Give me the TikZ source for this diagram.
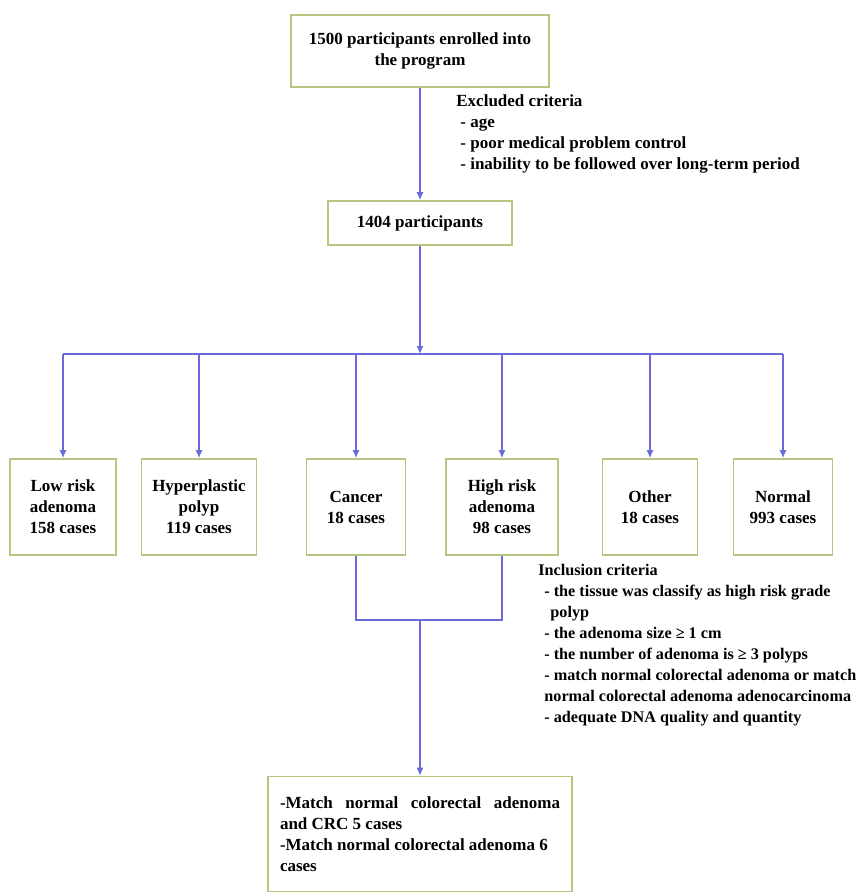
\documentclass[tikz,border=0pt]{standalone}
\usepackage{fontspec}
\setmainfont{Liberation Serif}
\usetikzlibrary{arrows.meta}

\definecolor{boxgreen}{RGB}{180,198,128}
\definecolor{flowblue}{RGB}{106,106,218}

\tikzset{
    flowfont/.style={font=\bfseries\fontsize{8.5}{10.5}\selectfont},
    box/.style={draw=boxgreen, line width=0.8pt, align=center, inner sep=2pt, flowfont},
    note/.style={anchor=north west, align=left, inner sep=0pt, flowfont},
    flow/.style={draw=flowblue, line width=0.7pt},
    flowarrow/.style={flow, -{Latex[length=4pt, width=3.5pt]}},
}

\begin{document}
\begin{tikzpicture}[x=0.5pt, y=-0.5pt]
    \useasboundingbox (0, 0) rectangle (867, 893);

    % top of the chart
    \node[box, minimum width=129pt, minimum height=36pt] (enrolled) at (420, 51)
        {1500 participants enrolled into\\the program};
    \node[box, minimum width=92pt, minimum height=22pt] (part) at (420, 223)
        {1404 participants};
    \draw[flowarrow] (enrolled.south) -- (part.north);

    \node[note] (excluded) at (456, 94)
        {Excluded criteria\\
         \hspace{2pt}- age\\
         \hspace{2pt}- poor medical problem control\\
         \hspace{2pt}- inability to be followed over long-term period};

    % groups
    \node[box, minimum width=53pt, minimum height=48pt] (low) at (63, 507)
        {Low risk\\adenoma\\158 cases};
    \node[box, minimum width=57.5pt, minimum height=48pt] (hyper) at (199, 507)
        {Hyperplastic\\polyp\\119 cases};
    \node[box, minimum width=49.5pt, minimum height=48pt] (cancer) at (356, 507)
        {Cancer\\18 cases};
    \node[box, minimum width=56pt, minimum height=48pt] (high) at (502, 507)
        {High risk\\adenoma\\98 cases};
    \node[box, minimum width=47.5pt, minimum height=48pt] (other) at (650, 507)
        {Other\\18 cases};
    \node[box, minimum width=49.5pt, minimum height=48pt] (normal) at (783, 507)
        {Normal\\993 cases};

    \coordinate (hub) at (420, 354);
    \draw[flowarrow] (part.south) -- (hub);
    \draw[flow] (low.north |- hub) -- (normal.north |- hub);
    \foreach \grp in {low, hyper, cancer, high, other, normal}
        \draw[flowarrow] (\grp.north |- hub) -- (\grp.north);

    \node[note, font=\bfseries\fontsize{8.1}{10.5}\selectfont] (inclusion) at (538, 564)
        {Inclusion criteria\\
         \hspace{3pt}- the tissue was classify as high risk grade\\
         \hspace{6pt}polyp\\
         \hspace{3pt}- the adenoma size ≥ 1 cm\\
         \hspace{3pt}- the number of adenoma is ≥ 3 polyps\\
         \hspace{3pt}- match normal colorectal adenoma or match\\
         \hspace{3pt}normal colorectal adenoma adenocarcinoma\\
         \hspace{3pt}- adequate DNA quality and quantity};

    % merge into the matched set
    \coordinate (merge) at (420, 620);
    \draw[flow] (cancer.south) -- (cancer.south |- merge) -- (high.south |- merge) -- (high.south);

    \node[box, align=justify, text width=140pt, inner xsep=6pt, minimum height=57.5pt] (final) at (420, 834)
        {-Match normal colorectal adenoma\linebreak and CRC 5 cases\\
         -Match normal colorectal adenoma 6\\
         cases};
    \draw[flowarrow] (merge) -- (final.north);
\end{tikzpicture}
\end{document}
